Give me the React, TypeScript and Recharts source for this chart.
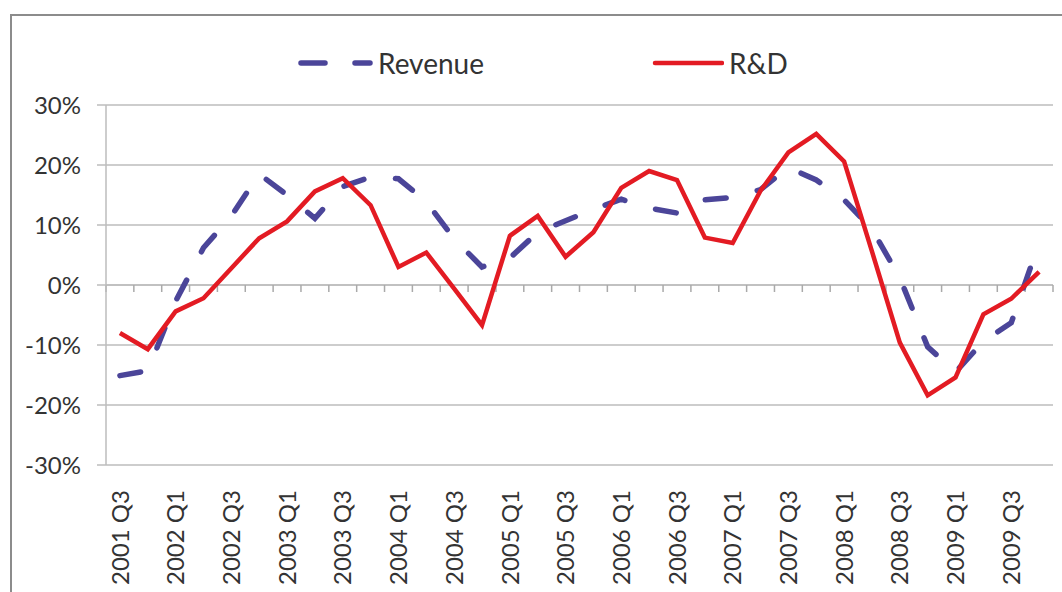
import { LineChart, Line, XAxis, YAxis, CartesianGrid, Legend, ReferenceLine } from 'recharts';

const quarters = [
  '2001 Q3', '2001 Q4',
  '2002 Q1', '2002 Q2', '2002 Q3', '2002 Q4',
  '2003 Q1', '2003 Q2', '2003 Q3', '2003 Q4',
  '2004 Q1', '2004 Q2', '2004 Q3', '2004 Q4',
  '2005 Q1', '2005 Q2', '2005 Q3', '2005 Q4',
  '2006 Q1', '2006 Q2', '2006 Q3', '2006 Q4',
  '2007 Q1', '2007 Q2', '2007 Q3', '2007 Q4',
  '2008 Q1', '2008 Q2', '2008 Q3', '2008 Q4',
  '2009 Q1', '2009 Q2', '2009 Q3', '2009 Q4',
];

// growth, percent
const revenue = [
  -15.1, -14.3, -2.7, 6.2, 11.5, 18.5, 15.0, 11.1, 16.4, 18.0,
  17.7, 13.9, 7.7, 3.0, 4.5, 8.8, 10.7, 12.6, 14.3, 12.8,
  12.0, 14.2, 14.6, 15.9, 19.6, 17.5, 14.2, 9.3, 1.2, -10.3,
  -14.5, -9.4, -6.3, 7.0,
];

const rnd = [
  -8.0, -10.7, -4.4, -2.2, 2.8, 7.8, 10.6, 15.6, 17.8, 13.3,
  3.0, 5.4, -0.6, -6.7, 8.2, 11.5, 4.7, 8.8, 16.2, 19.0,
  17.5, 7.9, 7.0, 15.7, 22.1, 25.2, 20.6, 5.6, -9.6, -18.4,
  -15.4, -4.9, -2.3, 2.2,
];

const yTicks = [-30, -20, -10, 0, 10, 20, 30];
const seriesOrder = ['Revenue', 'R&D'];

const data = quarters.map((q, i) => ({ quarter: q, Revenue: revenue[i], 'R&D': rnd[i] }));

const BLUE = '#4b4599';
const RED = '#e31b23';
const GRID = '#bdbdbd';
const TEXT = '#333333';
const FONT = 'Lato, sans-serif';

function QuarterTick({ x, y, payload }: any) {
  return (
    <text
      transform={`translate(${x},${y}) rotate(-90)`}
      textAnchor="end"
      dy="0.36em"
      fill={TEXT}
      fontSize={24}
      fontFamily={FONT}
    >
      {payload.value}
    </text>
  );
}

// zero line with category tick marks between the bands
function ZeroAxis(props: any) {
  const { x1, y1, x2 } = props;
  const n = quarters.length;
  const step = (x2 - x1) / n;
  return (
    <g>
      <line x1={x1} x2={x2} y1={y1} y2={y1} stroke={GRID} strokeWidth={1.5} />
      {Array.from({ length: n + 1 }, (_, k) => (
        <line key={k} x1={x1 + step * k} x2={x1 + step * k} y1={y1} y2={y1 + 7} stroke="#aaaaaa" strokeWidth={1.5} />
      ))}
    </g>
  );
}

const legendLeft: Record<string, number> = { Revenue: 0, 'R&D': 354 };

function renderLegend({ payload }: any) {
  const items = seriesOrder
    .map((name) => (payload || []).find((p: any) => p.value === name))
    .filter(Boolean);
  return (
    <div style={{ position: 'relative', height: 30, fontFamily: FONT, fontSize: 28, color: TEXT }}>
      {items.map((entry: any) => {
        const dashed = entry.value === 'Revenue';
        return (
          <div
            key={entry.value}
            style={{ position: 'absolute', left: legendLeft[entry.value], top: 0, display: 'flex', alignItems: 'center', whiteSpace: 'nowrap' }}
          >
            <svg width={dashed ? 75 : 72} height={12}>
              <line
                x1={3}
                x2={dashed ? 72 : 70}
                y1={6}
                y2={6}
                stroke={entry.color}
                strokeWidth={dashed ? 5.5 : 4.5}
                strokeLinecap="round"
                strokeDasharray={dashed ? '24 30' : undefined}
              />
            </svg>
            <span style={{ marginLeft: 5, lineHeight: '30px' }}>{entry.value}</span>
          </div>
        );
      })}
    </div>
  );
}

export default function App() {
  return (
    <div style={{ position: 'fixed', left: 0, top: 0, width: 1062, height: 592, overflow: 'hidden', background: '#fff' }}>
      <div
        style={{
          position: 'absolute',
          left: 10,
          top: 14,
          width: 1200,
          height: 800,
          border: '2px solid #8c8c8c',
          boxSizing: 'border-box',
        }}
      />
      <div style={{ position: 'absolute', left: 0, top: 0 }}>
        <LineChart width={1062} height={592} data={data} margin={{ top: 105, right: 9, left: 0, bottom: 0 }}>
          <CartesianGrid vertical={false} stroke={GRID} strokeWidth={1.5} />
          <XAxis
            dataKey="quarter"
            scale="band"
            interval={1}
            height={127}
            axisLine={false}
            tickLine={false}
            tickSize={0}
            tickMargin={25}
            tick={<QuarterTick />}
          />
          <YAxis
            width={106}
            domain={[-30, 30]}
            ticks={yTicks}
            interval={0}
            tickFormatter={(v) => `${v}%`}
            axisLine={{ stroke: GRID, strokeWidth: 1.5 }}
            tickLine={{ stroke: GRID, strokeWidth: 1.5 }}
            tickSize={9}
            tickMargin={16}
            tick={{ fill: TEXT, fontSize: 24, fontFamily: FONT }}
          />
          <ReferenceLine y={0} shape={ZeroAxis} />
          <Legend
            layout="vertical"
            verticalAlign="middle"
            align="center"
            wrapperStyle={{ left: 298, top: 48, width: 520 }}
            content={renderLegend}
          />
          <Line
            dataKey="Revenue"
            stroke={BLUE}
            strokeWidth={5.5}
            strokeDasharray="21 32"
            strokeLinecap="round"
            dot={false}
            activeDot={false}
            isAnimationActive={false}
          />
          <Line
            dataKey="R&D"
            stroke={RED}
            strokeWidth={4.5}
            dot={false}
            activeDot={false}
            isAnimationActive={false}
          />
        </LineChart>
      </div>
    </div>
  );
}
